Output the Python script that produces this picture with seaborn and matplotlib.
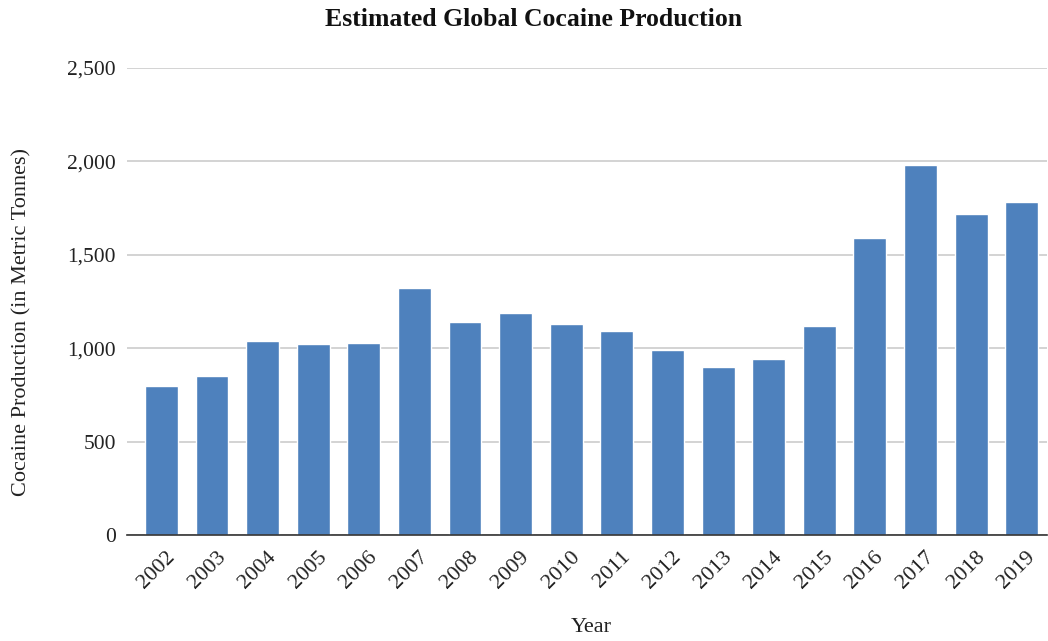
import matplotlib
matplotlib.use("Agg")
import matplotlib.pyplot as plt
import matplotlib.transforms as mtransforms
import seaborn as sns
import pandas as pd

years = ["2002", "2003", "2004", "2005", "2006", "2007", "2008", "2009", "2010",
         "2011", "2012", "2013", "2014", "2015", "2016", "2017", "2018", "2019"]
production = [800, 850, 1040, 1020, 1030, 1320, 1140, 1190, 1130,
              1090, 990, 900, 940, 1120, 1590, 1980, 1720, 1780]
y_ticks = [0, 500, 1000, 1500, 2000, 2500]

df = pd.DataFrame({"Year": years, "Production": production})

sns.set_theme(style="white")
plt.rcParams["font.family"] = ["Liberation Serif", "DejaVu Serif"]

fig = plt.figure(figsize=(10.48, 6.41), dpi=100)
ax = fig.add_axes([127 / 1048, 1 - 535 / 641, 920 / 1048, (535 - 68) / 641])

sns.barplot(data=df, x="Year", y="Production", color="#4e81bd", saturation=1,
            width=0.65, ax=ax, zorder=3)

ax.set_ylim(0, 2500)
ax.set_xlim(-0.68, 17.5)
ax.set_yticks(y_ticks)
ax.set_yticklabels([f"{v:,}" for v in y_ticks], fontsize=15.5, color="#222222")
ax.tick_params(axis="y", length=0, pad=8)
ax.tick_params(axis="x", length=0, pad=9)
offset = mtransforms.ScaledTranslation(4 / 100, 0, fig.dpi_scale_trans)
for lbl in ax.get_xticklabels():
    lbl.set_rotation(45)
    lbl.set_ha("right")
    lbl.set_rotation_mode("anchor")
    lbl.set_fontsize(16)
    lbl.set_color("#222222")
    lbl.set_transform(lbl.get_transform() + offset)

ax.yaxis.grid(True, color="#cccccc", linewidth=1.2, zorder=0)
ax.xaxis.grid(False)
for s in ["top", "right", "left"]:
    ax.spines[s].set_visible(False)
ax.spines["bottom"].set_color("#333333")
ax.spines["bottom"].set_linewidth(1.2)
ax.spines["bottom"].set_zorder(4)

ax.set_xlabel("")
ax.set_ylabel("")
fig.text(591 / 1048, 1 - 628 / 641, "Year", ha="center", va="center",
         fontsize=16, color="#222222")
fig.text(22 / 1048, 1 - 322 / 641, "Cocaine Production (in Metric Tonnes)",
         ha="center", va="center", rotation=90, fontsize=16, color="#222222")

fig.text(534 / 1048, 1 - 20 / 641, "Estimated Global Cocaine Production",
         ha="center", va="center", fontsize=18.5, fontweight="bold", color="#111111")

fig.savefig("out.png", dpi=100)
